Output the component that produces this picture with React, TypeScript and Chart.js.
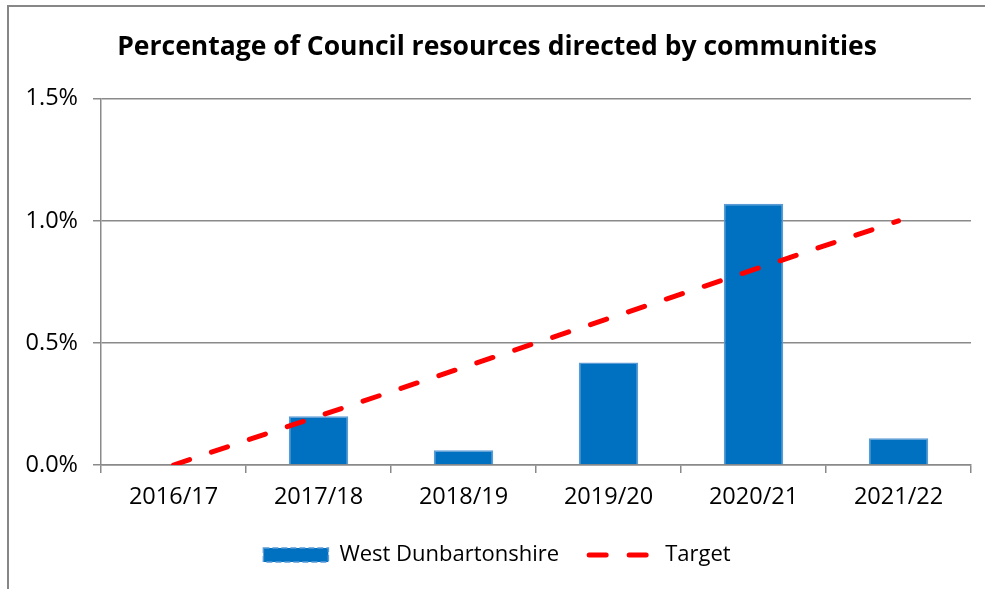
import React, { useEffect, useRef } from "react";
import { Chart, registerables } from "chart.js";

Chart.register(...registerables);

const categories = ["2016/17", "2017/18", "2018/19", "2019/20", "2020/21", "2021/22"];
const westDunbartonshire = [0, 0.2, 0.06, 0.42, 1.07, 0.11];
const target = [0, 0.2, 0.4, 0.6, 0.8, 1.0];
const yTicks = [0, 0.5, 1.0, 1.5];
const titleText = "Percentage of Council resources directed by communities";

const FONT = "'Open Sans', Lato, sans-serif";
const GRID = "#8a8a8a";

export default function App() {
  const ref = useRef<HTMLCanvasElement | null>(null);

  useEffect(() => {
    if (!ref.current) return;
    const chart = new Chart(ref.current, {
      data: {
        labels: categories,
        datasets: [
          {
            type: "bar",
            label: "West Dunbartonshire",
            data: westDunbartonshire,
            backgroundColor: "#0070C0",
            borderColor: "#5B9BD5",
            borderWidth: 1.5,
            barPercentage: 0.41,
            categoryPercentage: 1,
            order: 2,
          },
          {
            type: "line",
            label: "Target",
            data: target,
            borderColor: "#FF0000",
            backgroundColor: "#FF0000",
            borderWidth: 5,
            borderDash: [17, 23],
            borderCapStyle: "round",
            pointRadius: 0,
            tension: 0,
            order: 1,
          },
        ],
      },
      options: {
        animation: false,
        responsive: true,
        maintainAspectRatio: false,
        layout: { padding: { left: 23, right: 14, top: 0, bottom: 13 } },
        plugins: {
          title: {
            display: true,
            text: titleText,
            color: "#000",
            font: { family: FONT, size: 26.5, weight: "bold" },
            padding: { top: 32, bottom: 35 },
          },
          legend: {
            position: "bottom",
            labels: {
              color: "#000",
              font: { family: FONT, size: 22 },
              usePointStyle: true,
              pointStyleWidth: 65,
              boxHeight: 14,
              padding: 30,
              generateLabels: () => [
                {
                  text: "West Dunbartonshire",
                  fillStyle: "#0070C0",
                  strokeStyle: "#5B9BD5",
                  lineWidth: 1.5,
                  lineDash: [6, 3],
                  pointStyle: "rect",
                  datasetIndex: 0,
                  hidden: false,
                },
                {
                  text: "Target",
                  fillStyle: "#FF0000",
                  strokeStyle: "#FF0000",
                  lineWidth: 5,
                  lineDash: [17, 23],
                  lineCap: "round",
                  pointStyle: "line",
                  datasetIndex: 1,
                  hidden: false,
                },
              ],
            },
          },
          tooltip: { enabled: false },
        },
        scales: {
          x: {
            grid: {
              display: true,
              drawOnChartArea: false,
              drawTicks: true,
              tickLength: 8,
              color: GRID,
              lineWidth: 1.5,
              offset: true,
            },
            border: { display: true, color: GRID, width: 1.5 },
            ticks: { color: "#000", font: { family: FONT, size: 23.5 }, padding: 10, maxRotation: 0 },
            afterFit: (s: any) => {
              s.height = 49;
            },
          },
          y: {
            min: 0,
            max: 1.5,
            afterBuildTicks: (s: any) => {
              s.ticks = yTicks.map((v) => ({ value: v }));
            },
            grid: { color: GRID, lineWidth: 1.5, tickLength: 8, drawTicks: true },
            border: { display: true, color: GRID, width: 1.5 },
            ticks: {
              color: "#000",
              font: { family: FONT, size: 23.5 },
              padding: 15,
              callback: (v: any) => Number(v).toFixed(1) + "%",
            },
            afterFit: (s: any) => {
              s.width = 78;
            },
          },
        },
      },
    } as any);
    return () => chart.destroy();
  }, []);

  return (
    <div style={{ position: "absolute", left: 0, top: 0, width: 985, height: 589, overflow: "hidden", background: "#fff" }}>
      <div
        style={{
          position: "absolute",
          left: 7,
          top: 5,
          width: 1000,
          height: 600,
          borderLeft: "2px solid #878787",
          borderTop: "2px solid #878787",
        }}
      />
      <div style={{ position: "absolute", left: 0, top: 0, width: 985, height: 589 }}>
        <canvas ref={ref} />
      </div>
    </div>
  );
}
